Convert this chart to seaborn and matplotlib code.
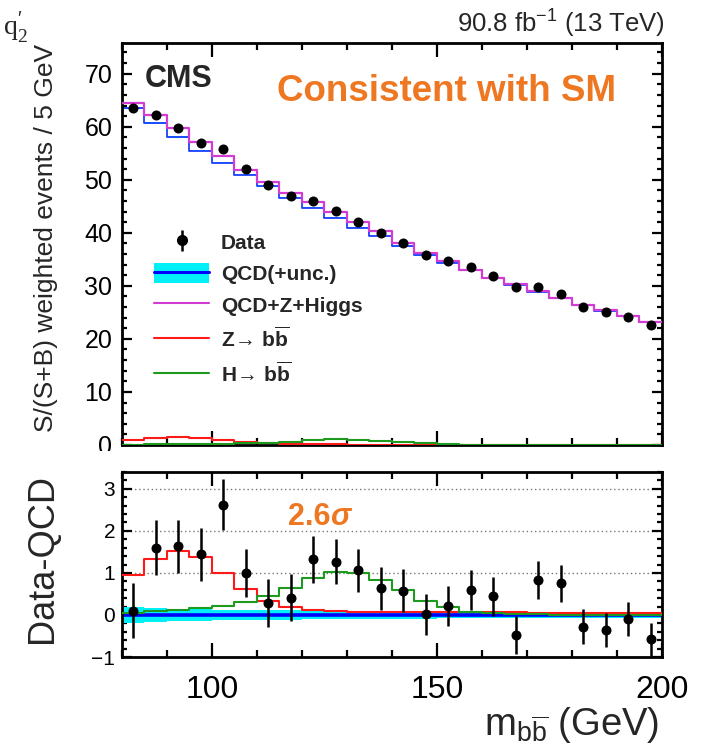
import numpy as np
import pandas as pd
import matplotlib
matplotlib.use("Agg")
import matplotlib.pyplot as plt
import seaborn as sns
from matplotlib.lines import Line2D
from matplotlib.patches import Patch
from matplotlib.ticker import MultipleLocator
from matplotlib.transforms import Bbox, TransformedBbox

# ---- binned m_bb distribution (5 GeV bins) ----
mass_edges = np.arange(80, 201, 5)
mass_centers = mass_edges[:-1] + 2.5

data_weighted = [63.6, 62.3, 59.7, 56.9, 55.8, 51.95, 49.1, 47.0, 46.0, 44.1, 42.0, 40.0,
                 38.05, 35.85, 34.6, 33.5, 31.9, 29.7, 29.7, 28.4, 26.1, 25.0, 24.15, 22.6]
qcd_weighted = [63.5, 60.7, 58.05, 55.5, 53.2, 50.95, 48.8, 46.6, 44.7, 42.8, 40.95, 39.4,
                37.5, 35.8, 34.4, 32.9, 31.45, 30.2, 28.9, 27.65, 26.4, 25.35, 24.25, 23.2]
qcd_unc = [0.18, 0.16, 0.15, 0.14, 0.13, 0.12, 0.11, 0.11, 0.10, 0.10, 0.10, 0.09,
           0.09, 0.09, 0.08, 0.08, 0.08, 0.08, 0.08, 0.07, 0.07, 0.07, 0.07, 0.07]
z_bb = [0.95, 1.33, 1.53, 1.39, 1.00, 0.62, 0.34, 0.18, 0.13, 0.10, 0.08, 0.07,
        0.07, 0.07, 0.06, 0.06, 0.06, 0.06, 0.05, 0.05, 0.05, 0.05, 0.05, 0.05]
h_bb = [0.05, 0.10, 0.12, 0.16, 0.21, 0.30, 0.44, 0.65, 0.89, 1.03, 1.01, 0.84,
        0.60, 0.34, 0.18, 0.08, 0.04, 0.02, 0.02, 0.01, 0.01, 0.01, 0.01, 0.01]
data_minus_qcd = [0.10, 1.60, 1.64, 1.44, 2.62, 1.00, 0.29, 0.41, 1.33, 1.27, 1.06, 0.63,
                  0.58, 0.02, 0.22, 0.59, 0.44, -0.47, 0.83, 0.75, -0.28, -0.36, -0.10, -0.58]
data_err = [0.65, 0.65, 0.63, 0.62, 0.61, 0.58, 0.57, 0.56, 0.56, 0.54, 0.52, 0.52,
            0.51, 0.49, 0.48, 0.48, 0.46, 0.45, 0.45, 0.44, 0.42, 0.41, 0.40, 0.40]

top_yticks = [0, 10, 20, 30, 40, 50, 60, 70]
bottom_yticks = [-1, 0, 1, 2, 3]
x_ticks = [100, 150, 200]

df = pd.DataFrame({
    "mass": mass_centers,
    "data": data_weighted,
    "qcd": qcd_weighted,
    "unc": qcd_unc,
    "z": z_bb,
    "h": h_bb,
    "resid": data_minus_qcd,
    "err": data_err,
})
df["total"] = df["qcd"] + df["z"] + df["h"]
df["zero"] = 0.0

# step outlines need the bin edges, with the last bin's value repeated at the end
steps = pd.DataFrame({"edge": mass_edges})
for col in ["qcd", "unc", "z", "h", "total", "zero"]:
    vals = df[col].to_numpy()
    steps[col] = np.append(vals, vals[-1])

# ---- style ----
sns.set_style("ticks")
plt.rcParams.update({
    "font.family": ["Liberation Sans", "DejaVu Sans"],
    "mathtext.fontset": "custom",
    "mathtext.rm": "Liberation Sans",
    "mathtext.bf": "Liberation Sans:bold",
    "mathtext.it": "Liberation Sans:italic",
    "mathtext.tt": "Liberation Serif",
    "axes.linewidth": 2.0,
    "axes.edgecolor": "black",
})

C_BLUE = "#1f3fff"
C_CYAN = "#00f0f8"
C_MAG = "#d23cd2"
C_RED = "#ff1a1a"
C_GREEN = "#1e9a1e"
C_ORANGE = "#ee7722"

fig = plt.figure(figsize=(7.15, 7.52), dpi=100)
ax1 = fig.add_axes([0.1706, 0.4083, 0.7552, 0.5346])
ax2 = fig.add_axes([0.1706, 0.1263, 0.7552, 0.2460])


def band(ax, center_col):
    c = steps[center_col].to_numpy()
    u = steps["unc"].to_numpy()
    ax.fill_between(steps["edge"], c - u, c + u, step="post", color=C_CYAN, lw=0, zorder=1)


def stairs(ax, col, color, lw, z):
    sns.lineplot(data=steps, x="edge", y=col, drawstyle="steps-post", color=color,
                 linewidth=lw, ax=ax, zorder=z, estimator=None)


# ---- upper panel: weighted event yields ----
band(ax1, "qcd")
stairs(ax1, "qcd", C_BLUE, 1.3, 2)
stairs(ax1, "total", C_MAG, 1.6, 3)
stairs(ax1, "z", C_RED, 1.5, 3)
stairs(ax1, "h", C_GREEN, 1.5, 3)
ax1.errorbar(df["mass"], df["data"], yerr=df["err"], fmt="none", ecolor="black",
             elinewidth=1.8, zorder=4)
sns.scatterplot(data=df, x="mass", y="data", color="black", s=52, edgecolor="black",
                linewidth=0, ax=ax1, zorder=5)

# ---- lower panel: data minus QCD ----
band(ax2, "zero")
stairs(ax2, "zero", "#0000ff", 2.6, 2)
stairs(ax2, "z", C_RED, 1.5, 3)
stairs(ax2, "h", C_GREEN, 1.5, 3)
err2 = ax2.errorbar(df["mass"], df["resid"], yerr=df["err"], fmt="none", ecolor="black",
                    elinewidth=1.8, zorder=4)
sns.scatterplot(data=df, x="mass", y="resid", color="black", s=52, edgecolor="black",
                linewidth=0, ax=ax2, zorder=5)

# ---- axes cosmetics ----
for ax in (ax1, ax2):
    ax.set_xlim(80, 200)
    ax.set_xticks(x_ticks)
    ax.xaxis.set_minor_locator(MultipleLocator(10))
    ax.tick_params(which="both", direction="in", top=True, right=True, width=1.6,
                   colors="black")
    ax.tick_params(axis="x", which="major", length=10)
    ax.tick_params(axis="x", which="minor", length=5)
    ax.tick_params(axis="y", which="major", length=7.5)
    ax.tick_params(axis="y", which="minor", length=3.8)
    ax.set_xlabel("")
    ax.set_ylabel("")
    for sp in ax.spines.values():
        sp.set_linewidth(2.0)

ax1.set_ylim(0, 75.8)
ax1.set_yticks(top_yticks)
ax1.yaxis.set_minor_locator(MultipleLocator(2))
ax1.tick_params(axis="x", labelbottom=False)
ax1.tick_params(axis="y", labelsize=18, pad=7)
ax1.set_ylabel("S/(S+B) weighted events / 5 GeV", fontsize=19)
ax1.yaxis.set_label_coords(-0.118, 0.516)

ax2.set_ylim(-1, 3.4)
ax2.set_yticks(bottom_yticks)
ax2.yaxis.set_minor_locator(MultipleLocator(0.2))
ax2.tick_params(axis="y", labelsize=15, pad=5)
ax2.tick_params(axis="x", labelsize=23, pad=13)
ax2.yaxis.grid(True, which="major", linestyle=(0, (1, 2)), color="#777777", lw=1.0)
ax2.set_axisbelow(True)
ax2.set_ylabel("Data-QCD", fontsize=26)
ax2.yaxis.set_label_coords(-0.115, 0.53)
ax2.set_xlabel(r"m$_{\mathrm{b\overline{b}}}$ (GeV)", fontsize=27.5, loc="right")
ax2.xaxis.set_label_coords(0.996, -0.262)

# the "0" label of the upper panel is cut at the panel boundary
clip = TransformedBbox(Bbox([[0.0, 0.4003], [1.0, 1.0]]), fig.transFigure)
for lbl in ax1.get_yticklabels():
    lbl.set_clip_box(clip)
    lbl.set_clip_on(True)

# ---- annotations ----
fig.text(0.004, 0.953, r"$\mathtt{q}_{\mathtt{2}}^{\prime}$", fontsize=20, ha="left",
         va="baseline")
fig.text(0.930, 0.957, r"90.8 fb$^{-1}$ (13 TeV)", fontsize=18.5, ha="right",
         va="baseline")
fig.text(0.203, 0.884, "CMS", fontsize=22, fontweight="bold", ha="left", va="baseline")
fig.text(0.387, 0.866, "Consistent with SM", fontsize=26.5, fontweight="bold",
         color=C_ORANGE, ha="left", va="baseline")
t26 = ax2.text(0.307, 0.714, "2.6", transform=ax2.transAxes, fontsize=22,
               fontweight="bold", color=C_ORANGE, ha="left", va="baseline")
ax2.annotate("σ", xy=(1.0, 0.0), xycoords=t26, fontsize=22, fontweight="bold",
             fontstyle="italic", color=C_ORANGE, ha="left", va="bottom")

# ---- legend ----
h_data = (err2, Line2D([], [], marker="o", color="black", ls="none", markersize=7))
h_qcd = (Patch(facecolor=C_CYAN, edgecolor="none"), Line2D([], [], color="#0000ff", lw=2.2))
handles = [h_data, h_qcd,
           Line2D([], [], color=C_MAG, lw=1.5),
           Line2D([], [], color=C_RED, lw=1.5),
           Line2D([], [], color=C_GREEN, lw=1.5)]
labels = ["Data", "QCD(+unc.)", "QCD+Z+Higgs",
          r"$\mathbf{Z}\!\rightarrow\,\mathbf{b\overline{b}}$",
          r"$\mathbf{H}\!\rightarrow\,\mathbf{b\overline{b}}$"]
fig.legend(handles, labels, loc="upper left", bbox_to_anchor=(0.216, 0.692),
           bbox_transform=fig.transFigure, frameon=False, borderpad=0,
           borderaxespad=0, handlelength=2.6, handleheight=1.1, handletextpad=0.6,
           labelspacing=0.5, prop={"size": 15, "weight": "bold"})

fig.savefig("out.png", dpi=100)
